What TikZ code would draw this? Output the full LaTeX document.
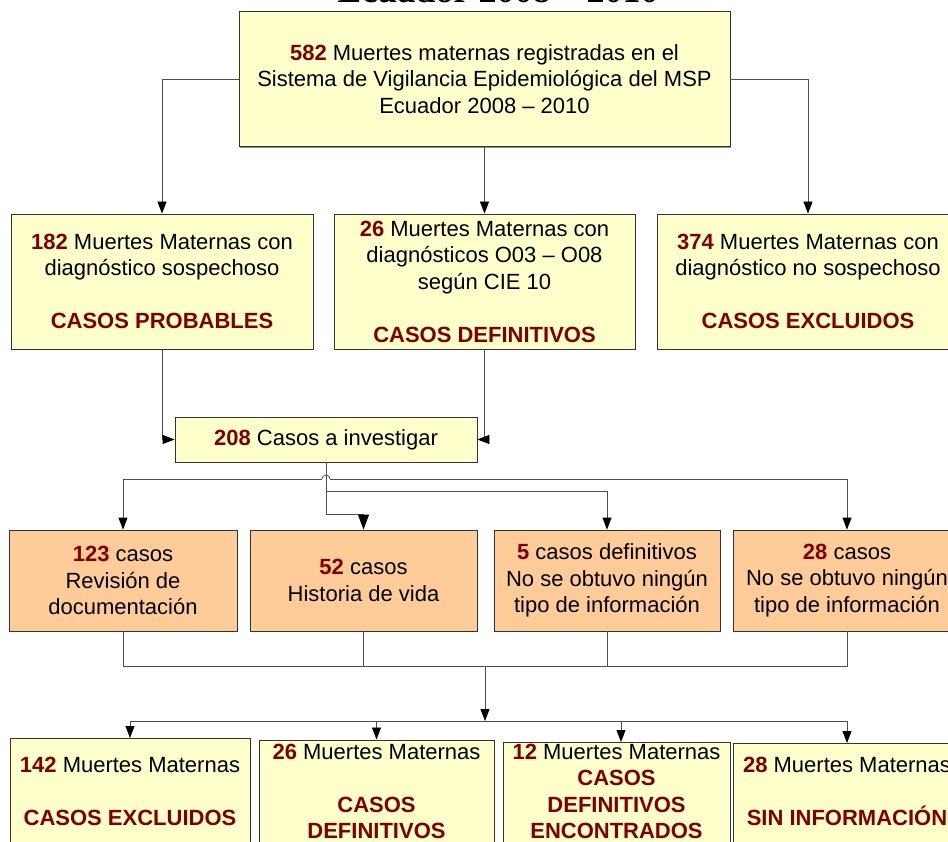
\documentclass[tikz,border=0pt]{standalone}
\usepackage{fontspec}
\setmainfont{Liberation Sans}
\newfontfamily\titlefont{Liberation Serif}
\usetikzlibrary{arrows.meta,shadows}
\definecolor{ylw}{HTML}{FFFFCC}
\definecolor{org}{HTML}{FFCC99}
\definecolor{numred}{HTML}{800000}
\definecolor{boxline}{HTML}{333333}
\definecolor{lnc}{HTML}{4D4D4D}
\definecolor{shadowc}{HTML}{8C8C8C}
\newcommand{\rn}[1]{\textbf{\color{numred}#1}}
\newcommand{\mainfs}{\fontsize{22}{26.5}\selectfont}
\tikzset{
  ybox/.style={draw=boxline, fill=ylw, line width=0.8pt, inner sep=0pt, align=center, font=\mainfs,
    general shadow={fill=shadowc, shadow xshift=1.3pt, shadow yshift=-1.3pt}},
  obox/.style={ybox, fill=org},
  txt/.style={inner sep=0pt, align=center, font=\mainfs},
  conn/.style={draw=lnc, line width=0.8pt},
  arr/.style={conn, -{Triangle[length=12pt,width=9pt,color=black]}},
  bigarr/.style={conn, -{Triangle[length=15pt,width=11pt,color=black]}},
}
\begin{document}
\begin{tikzpicture}[x=1pt,y=-1pt]
\useasboundingbox (0,0) rectangle (948,842);
% title (cut off at the top)
\node[anchor=base, inner sep=0pt, font=\titlefont\bfseries\fontsize{36}{36}\selectfont] (title) at (498,3) {Ecuador 2008 – 2010};
% top box
\node[ybox, minimum width=491pt, minimum height=135pt] (top) at (484.5,79)
  {\rn{582} Muertes maternas registradas en el\\Sistema de Vigilancia Epidemiológica del MSP\\Ecuador 2008 – 2010};
% row 2
\node[ybox, minimum width=302pt, minimum height=135pt] (r2a) at (162,281.5)
  {\rn{182} Muertes Maternas con\\diagnóstico sospechoso\\[26.5pt]\rn{CASOS PROBABLES}};
\node[ybox, minimum width=301pt, minimum height=135pt] (r2b) at (484.5,281.5)
  {\rn{26} Muertes Maternas con\\diagnósticos O03 – O08\\según CIE 10\\[26.5pt]\rn{CASOS DEFINITIVOS}};
\node[ybox, minimum width=302pt, minimum height=135pt] (r2c) at (808,281.5)
  {\rn{374} Muertes Maternas con\\diagnóstico no sospechoso\\[26.5pt]\rn{CASOS EXCLUIDOS}};
% 208 box
\node[ybox, minimum width=302pt, minimum height=45pt] (c208) at (326,439.5)
  {\rn{208} Casos a investigar};
% row 3
\node[obox, minimum width=228pt, minimum height=101pt] (r3a) at (123,580.5)
  {\rn{123} casos\\Revisión de\\documentación};
\node[obox, minimum width=227pt, minimum height=101pt] (r3b) at (363.5,580.5)
  {\rn{52} casos\\Historia de vida};
\node[obox, minimum width=226pt, minimum height=101pt] (r3c) at (607,580.5)
  {\rn{5} casos definitivos\\No se obtuvo ningún\\tipo de información};
\node[obox, minimum width=228pt, minimum height=101pt] (r3d) at (847,580.5)
  {\rn{28} casos\\No se obtuvo ningún\\tipo de información};
% row 4 (boxes run past the lower edge)
\node[ybox, minimum width=240pt, minimum height=112pt, anchor=north] (r4a) at (130,738) {};
\node[ybox, minimum width=235pt, minimum height=112pt, anchor=north] (r4b) at (376.5,739.5) {};
\node[ybox, minimum width=227pt, minimum height=112pt, anchor=north] (r4c) at (616.5,742) {};
\node[ybox, minimum width=228pt, minimum height=112pt, anchor=north] (r4d) at (847,743) {};
\node[txt] (r4at) at (130,791.5) {\rn{142} Muertes Maternas\\[26.5pt]\rn{CASOS EXCLUIDOS}};
\node[txt] (r4bt) at (376.5,791.5) {\rn{26} Muertes Maternas\\[26.5pt]\rn{CASOS}\\\rn{DEFINITIVOS}};
\node[txt] (r4ct) at (616.5,791.5) {\rn{12} Muertes Maternas\\\rn{CASOS}\\\rn{DEFINITIVOS}\\\rn{ENCONTRADOS}};
\node[txt] (r4dt) at (847,791.5) {\rn{28} Muertes Maternas\\[26.5pt]\rn{SIN INFORMACIÓN}};
% connectors: top to row 2
\draw[arr] (top.west) -| (r2a.north);
\draw[arr] (top.south) -- (r2b.north);
\draw[arr] (top.east) -| (r2c.north);
% row 2 to 208
\draw[arr] (r2a.south) |- (c208.west);
\draw[arr] (r2b.south) |- (c208.east);
% 208 to row 3
\coordinate (j1) at (326,514);
\coordinate (hl) at (322,479);
\coordinate (hr) at (330,479);
\coordinate (j2) at (326,491);
\draw[bigarr] (c208.south) -- (j1) -| (r3b.north);
\draw[conn] (hl) arc[start angle=180, end angle=0, radius=4pt];
\draw[arr] (hl) -| (r3a.north);
\draw[arr] (hr) -| (r3d.north);
\draw[arr] (j2) -| (r3c.north);
% row 3 to bus
\coordinate (bus) at (485,666);
\coordinate (bus2) at (485,721);
\draw[conn] (r3a.south) |- (bus);
\draw[conn] (r3b.south) |- (bus);
\draw[conn] (r3c.south) |- (bus);
\draw[conn] (r3d.south) |- (bus);
\draw[arr] (bus) -- (bus2);
% bus to row 4
\draw[arr] (bus2) -| (r4a.north);
\draw[arr] (bus2) -| (r4b.north);
\draw[arr] (bus2) -| ([xshift=4.5pt]r4c.north);
\draw[arr] (bus2) -| (r4d.north);
\end{tikzpicture}
\end{document}
